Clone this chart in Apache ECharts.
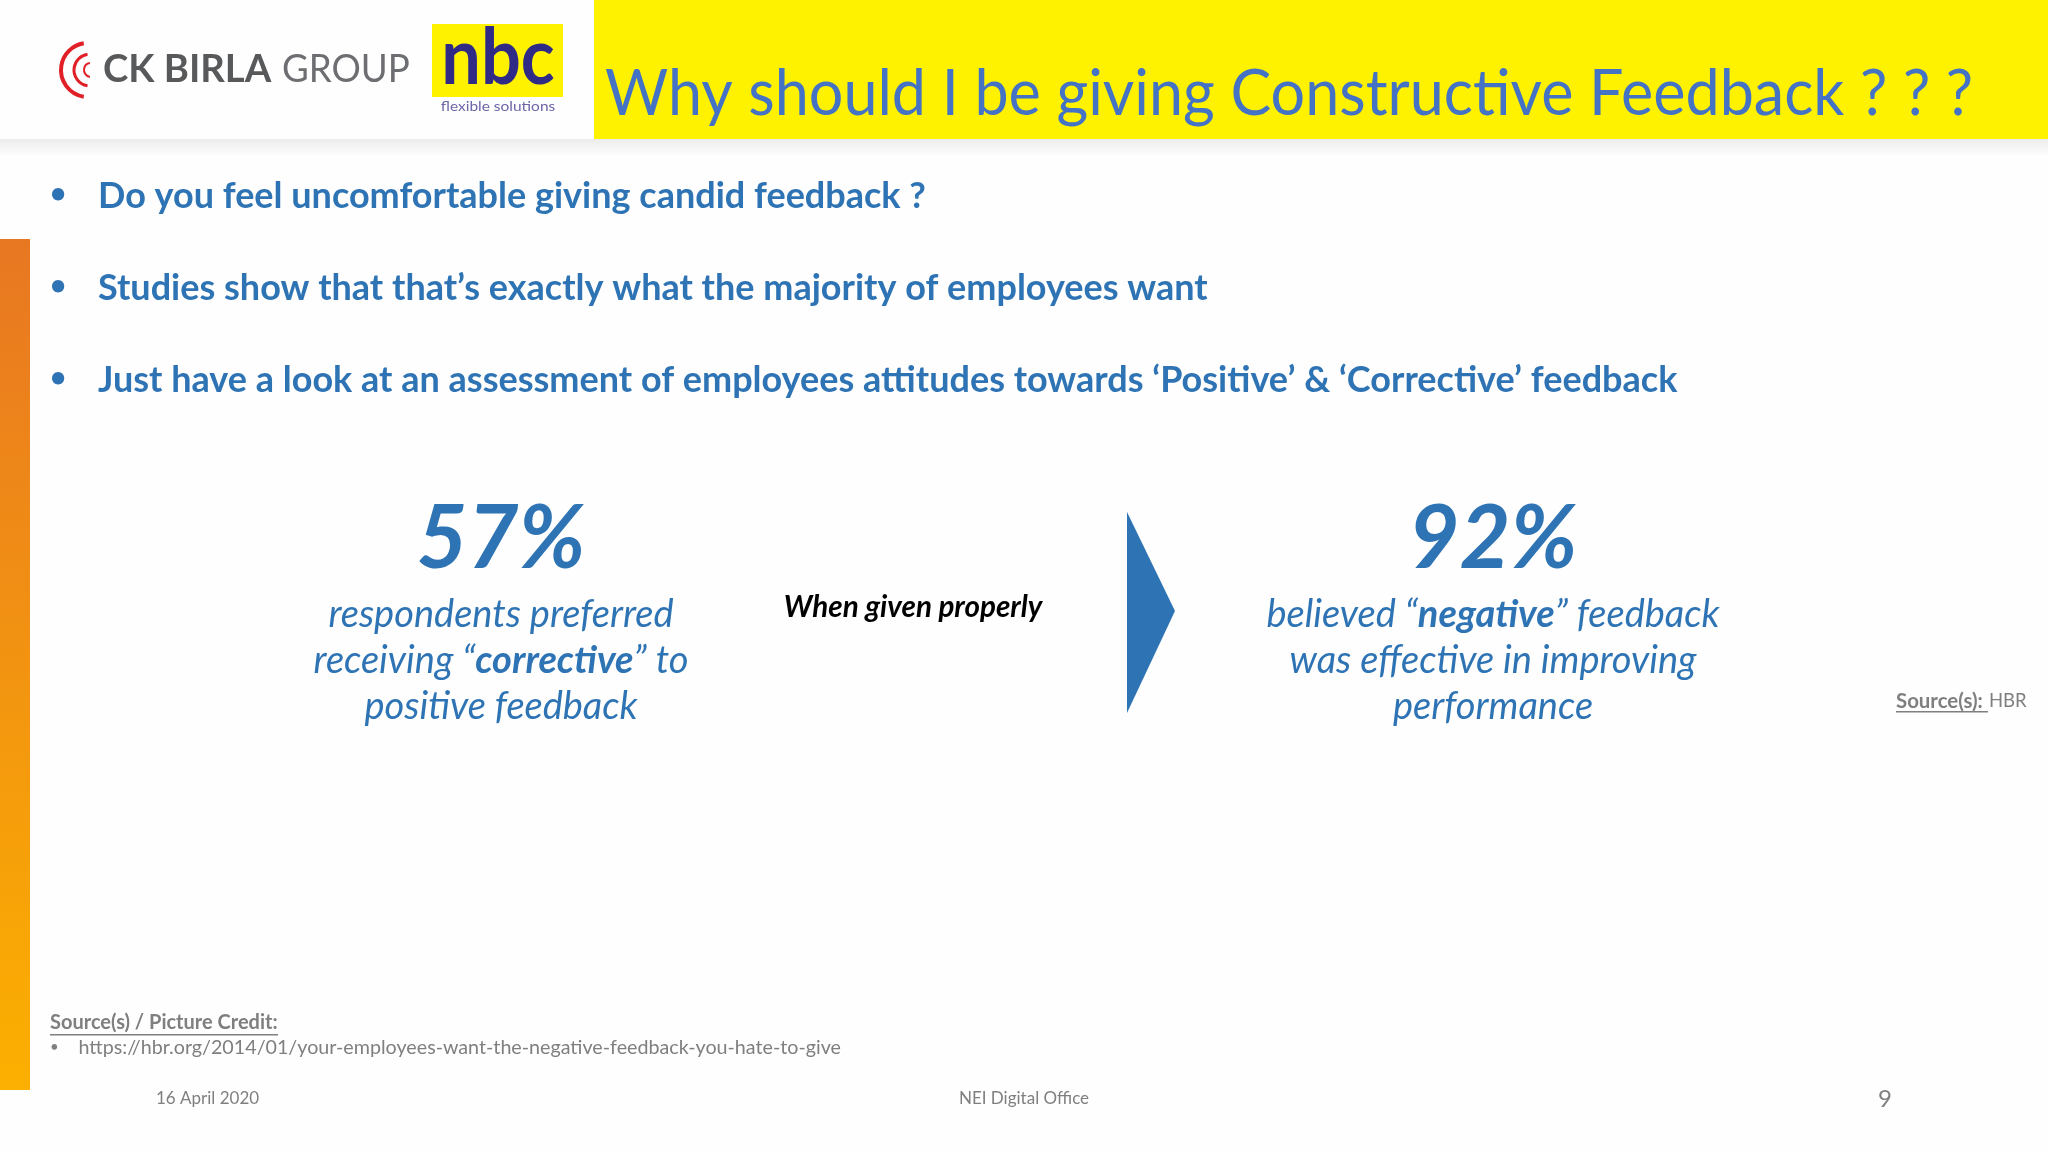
<!DOCTYPE html>
<html>
<head>
<meta charset="utf-8">
<style>
  html, body { margin: 0; padding: 0; background: #fff; }
  #chart { width: 2048px; height: 1152px; }
</style>
<script src="https://cdn.jsdelivr.net/npm/echarts@6/dist/echarts.min.js"></script>
</head>
<body>
<div id="chart"></div>
<script>
const titleText = 'Why should I be giving Constructive Feedback ? ? ?';
const bullets = [
  'Do you feel uncomfortable giving candid feedback ?',
  'Studies show that that\u2019s exactly what the majority of employees want',
  'Just have a look at an assessment of employees attitudes towards \u2018Positive\u2019 & \u2018Corrective\u2019 feedback'
];
const stats = ['57%', '92%'];
const leftLines = ['respondents preferred', 'receiving \u201c{b|corrective}\u201d to', 'positive feedback'];
const rightLines = ['believed \u201c{b|negative}\u201d feedback', 'was effective in improving', 'performance'];
const middleText = 'When given properly';
const creditTitle = 'Source(s) / Picture Credit:';
const creditUrl = 'https://hbr.org/2014/01/your-employees-want-the-negative-feedback-you-hate-to-give';
const footer = ['16 April 2020', 'NEI Digital Office', '9'];

const FONT = 'Lato';
const BLUE = '#2e74b5';
const GREY = '#7f7f7f';

// small helper, every text on the slide goes through this
function txt(x, y, text, size, color, opts) {
  opts = opts || {};
  return {
    type: 'text',
    x: x,
    y: y,
    scaleX: opts.scaleX || 1,
    z: opts.z || 10,
    style: {
      text: text,
      fontFamily: FONT,
      fontSize: size,
      fontWeight: opts.weight || 'normal',
      fontStyle: opts.italic ? 'italic' : 'normal',
      fill: color,
      align: opts.align || 'left',
      verticalAlign: 'middle',
      rich: opts.rich
    }
  };
}

function box(x, y, w, h, fill) {
  return { type: 'rect', shape: { x: x, y: y, width: w, height: h }, style: { fill: fill } };
}

const g = [];

// header
g.push(box(594, 0, 1454, 139, '#fff200'));
g.push({
  type: 'rect',
  shape: { x: 0, y: 139, width: 2048, height: 18 },
  style: {
    fill: new echarts.graphic.LinearGradient(0, 0, 0, 1, [
      { offset: 0, color: '#ececec' },
      { offset: 1, color: '#ffffff' }
    ])
  }
});
g.push(txt(605, 95, titleText, 63, '#4472c4', { scaleX: 0.969 }));

// ck birla logo
[[88, 27, 4], [90, 16, 3], [91, 7, 2]].forEach(function (a) {
  g.push({
    type: 'arc',
    shape: { cx: a[0], cy: 70, r: a[1], startAngle: Math.PI * 0.55, endAngle: Math.PI * 1.45 },
    style: { stroke: '#e01f26', fill: null, lineWidth: a[2] }
  });
});
g.push(txt(103, 69, 'CK BIRLA', 39, '#58595b', { weight: 'bold', scaleX: 0.98 }));
g.push(txt(282, 69, 'GROUP', 39, '#6d6e71', { scaleX: 0.94 }));

// nbc logo
g.push(box(432, 24, 131, 73, '#fff200'));
g.push(txt(498, 59, 'nbc', 78, '#2e2a86', { weight: 'bold', align: 'center', scaleX: 0.9 }));
g.push(txt(498, 107, 'flexible solutions', 13, '#6a67a8', { align: 'center', scaleX: 1.19 }));

// left accent bar
g.push({
  type: 'rect',
  shape: { x: 0, y: 239, width: 30, height: 851 },
  style: {
    fill: new echarts.graphic.LinearGradient(0, 0, 0, 1, [
      { offset: 0, color: '#e87722' },
      { offset: 1, color: '#fcb000' }
    ])
  }
});

// bullets
bullets.forEach(function (b, i) {
  const y = 196 + i * 92;
  g.push(txt(50, y - 2, '\u2022', 28, BLUE, { weight: 'bold' }));
  g.push(txt(98, y, b, 36, BLUE, { weight: 'bold' }));
});

// stat blocks
[[501, stats[0], leftLines], [1493, stats[1], rightLines]].forEach(function (s) {
  g.push(txt(s[0], 540, s[1], 88, BLUE, { weight: 'bold', italic: true, align: 'center' }));
  s[2].forEach(function (line, i) {
    g.push(txt(s[0], 615 + i * 46, line, 38, BLUE, {
      italic: true,
      align: 'center',
      rich: { b: { fontFamily: FONT, fontSize: 38, fontWeight: 'bold', fontStyle: 'italic', fill: BLUE } }
    }));
  });
});

// middle label and arrow
g.push(txt(913, 607, middleText, 29.6, '#000', { weight: 'bold', italic: true, align: 'center' }));
g.push({
  type: 'polygon',
  shape: { points: [[1127, 512], [1175, 611], [1127, 713]] },
  style: { fill: BLUE }
});

// side source
g.push(txt(1896, 701, 'Source(s):', 20.4, GREY, { weight: 'bold' }));
g.push(box(1896, 711, 92, 1.5, GREY));
g.push(txt(1989, 701, 'HBR', 18.5, GREY));

// bottom credit
g.push(txt(50, 1023, creditTitle, 20, GREY, { weight: 'bold' }));
g.push(box(50, 1034, 228, 1.5, GREY));
g.push(txt(50, 1047, '\u2022', 15, GREY));
g.push(txt(78.5, 1048, creditUrl, 19.7, GREY));

// footer
g.push(txt(156, 1099, footer[0], 17, GREY));
g.push(txt(1024, 1099, footer[1], 17, GREY, { align: 'center' }));
g.push(txt(1885, 1099, footer[2], 24, GREY, { align: 'center' }));

const myChart = echarts.init(document.getElementById('chart'));
myChart.setOption({
  backgroundColor: '#fefefe',
  animation: false,
  graphic: { elements: g }
});
</script>
</body>
</html>
